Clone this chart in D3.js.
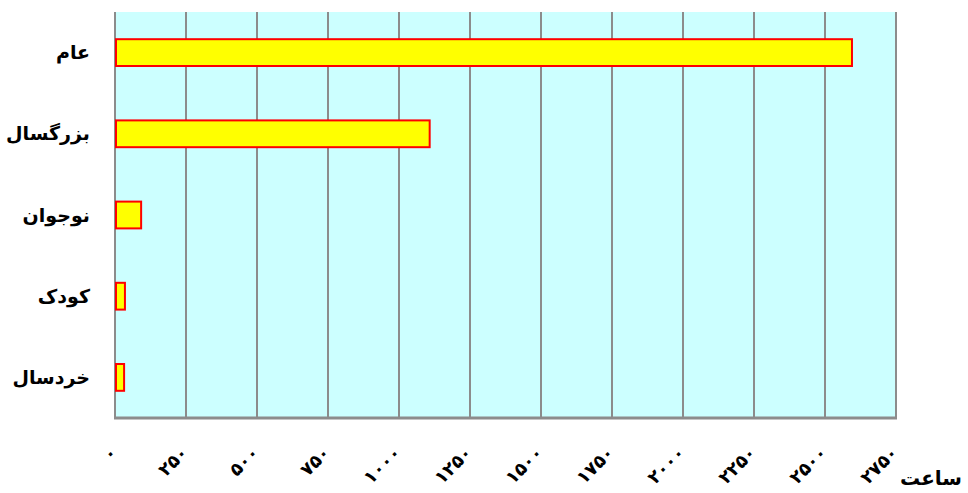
<!DOCTYPE html>
<html>
<head>
<meta charset="utf-8">
<script src="https://cdn.jsdelivr.net/npm/d3@7"></script>
<style>
  body { margin: 0; background: #fff; }
  text { font-family: "DejaVu Sans", sans-serif; font-weight: bold; fill: #000; }
</style>
</head>
<body>
<svg class="chart"></svg>
<script>
var categories = ["عام", "بزرگسال", "نوجوان", "کودک", "خردسال"];
var hours = [2595, 1108, 92, 35, 32];
var tickValues = [0, 250, 500, 750, 1000, 1250, 1500, 1750, 2000, 2250, 2500, 2750];
var tickLabels = ["۰", "۲۵۰", "۵۰۰", "۷۵۰", "۱۰۰۰", "۱۲۵۰", "۱۵۰۰", "۱۷۵۰", "۲۰۰۰", "۲۲۵۰", "۲۵۰۰", "۲۷۵۰"];
var axisTitle = "ساعت";

var chartWidth = 968, chartHeight = 493;
var plotLeft = 115, plotRight = 896, plotTop = 12, plotBottom = 418;

var svg = d3.select(".chart").attr("width", chartWidth).attr("height", chartHeight);

var x = d3.scaleLinear().domain([0, 2750]).range([plotLeft, plotRight]);
var y = d3.scaleBand().domain(categories).range([plotTop, plotBottom]).paddingInner(0.67).paddingOuter(0.335);

// plot background
svg.append("rect")
   .attr("x", plotLeft).attr("y", plotTop)
   .attr("width", plotRight - plotLeft).attr("height", plotBottom - plotTop)
   .attr("fill", "#ccffff");

// vertical grid lines
svg.append("g").selectAll("line")
   .data(tickValues)
   .enter().append("line")
   .attr("x1", function(d) { return x(d); })
   .attr("x2", function(d) { return x(d); })
   .attr("y1", plotTop).attr("y2", plotBottom)
   .attr("stroke", "#8c8c8c")
   .attr("stroke-width", 2);

// bars
svg.append("g").selectAll("rect")
   .data(hours)
   .enter().append("rect")
   .attr("x", x(0) + 1)
   .attr("y", function(d, i) { return y(categories[i]); })
   .attr("width", function(d) { return x(d) - x(0) - 1; })
   .attr("height", y.bandwidth())
   .attr("fill", "#ffff00")
   .attr("stroke", "#ff0000")
   .attr("stroke-width", 2);

// bottom axis line
svg.append("line")
   .attr("x1", plotLeft - 1).attr("x2", plotRight + 1)
   .attr("y1", plotBottom).attr("y2", plotBottom)
   .attr("stroke", "#8c8c8c").attr("stroke-width", 3);

// x tick labels, rotated
svg.append("g").selectAll("text")
   .data(tickValues)
   .enter().append("text")
   .attr("transform", function(d) { return "translate(" + (x(d) + 3) + ",454) rotate(-45)"; })
   .style("text-anchor", "end")
   .style("font-size", "18px")
   .text(function(d, i) { return tickLabels[i]; });

// category labels
svg.append("g").selectAll("text")
   .data(categories)
   .enter().append("text")
   .attr("x", 90)
   .attr("y", function(d) { return y(d) + y.bandwidth() / 2; })
   .attr("dy", "0.35em")
   .style("text-anchor", "end")
   .style("font-size", "19px")
   .text(function(d) { return d; });

// axis title
svg.append("text")
   .attr("x", 962).attr("y", 485)
   .style("text-anchor", "end")
   .style("font-size", "20px")
   .text(axisTitle);
</script>
</body>
</html>
